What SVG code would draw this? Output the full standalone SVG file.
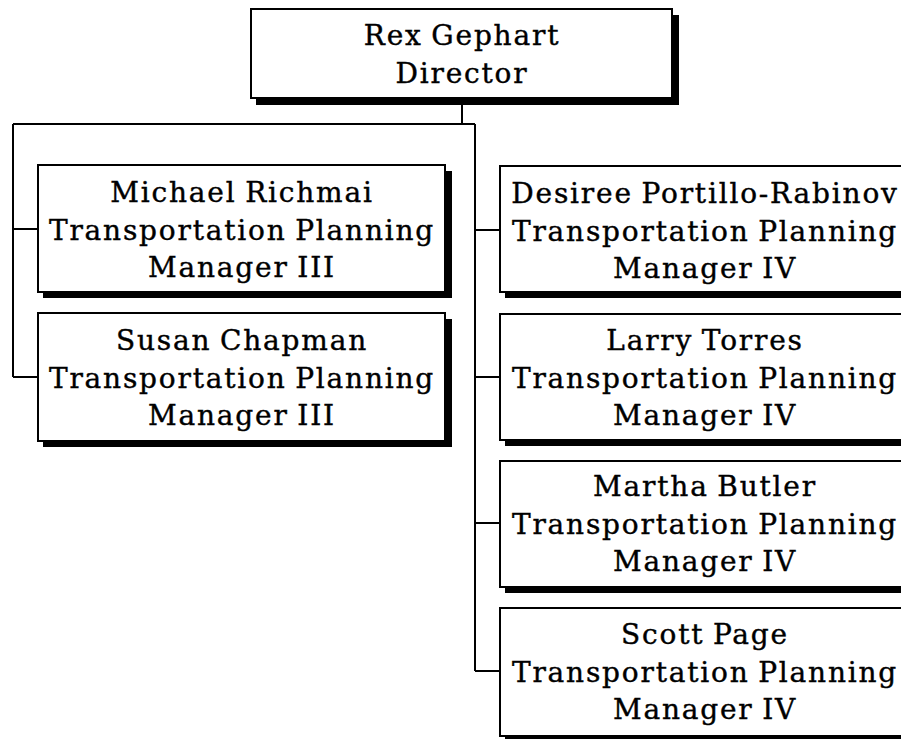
<svg xmlns="http://www.w3.org/2000/svg" width="901" height="739" viewBox="0 0 901 739">
<style>
  .shadow { fill: #000; }
  .box { fill: #fff; stroke: #000; stroke-width: 2; }
  .lbl { font-family: "DejaVu Serif", "Liberation Serif", serif; font-size: 28px; letter-spacing: 1.8px; word-spacing: -2px; fill: #000; stroke: #000; stroke-width: 0.4; text-anchor: middle; }
  .conn { fill: none; stroke: #000; stroke-width: 2; }
</style>
<rect width="901" height="739" fill="#fff"/>
<g id="connectors">
  <path class="conn" d="M462 98 V124 M13 124 H475 M13 124 V377 M13 229 H38 M13 377 H38 M475 124 V671 M475 230 H500 M475 377 H500 M475 523 H500 M475 671 H500"/>
</g>
<g id="node-director">
  <rect class="shadow" x="256" y="15" width="423" height="90"/>
  <rect class="box" x="251" y="9" width="421" height="89"/>
  <text class="lbl" x="462" y="45">Rex Gephart</text>
  <text class="lbl" x="462" y="83">Director</text>
</g>
<g id="node-michael">
  <rect class="shadow" x="43" y="171" width="409" height="127"/>
  <rect class="box" x="38" y="165" width="407" height="127"/>
  <text class="lbl" x="242" y="202">Michael Richmai</text>
  <text class="lbl" x="242" y="240">Transportation Planning</text>
  <text class="lbl" x="242" y="277">Manager III</text>
</g>
<g id="node-susan">
  <rect class="shadow" x="43" y="319" width="409" height="128"/>
  <rect class="box" x="38" y="313" width="407" height="128"/>
  <text class="lbl" x="242" y="350">Susan Chapman</text>
  <text class="lbl" x="242" y="388">Transportation Planning</text>
  <text class="lbl" x="242" y="425">Manager III</text>
</g>
<g id="node-desiree">
  <rect class="shadow" x="505" y="172" width="411" height="126"/>
  <rect class="box" x="500" y="166" width="411" height="126"/>
  <text class="lbl" x="705" y="203">Desiree Portillo-Rabinov</text>
  <text class="lbl" x="705" y="241">Transportation Planning</text>
  <text class="lbl" x="705" y="278">Manager IV</text>
</g>
<g id="node-larry">
  <rect class="shadow" x="505" y="320" width="411" height="126"/>
  <rect class="box" x="500" y="314" width="411" height="126"/>
  <text class="lbl" x="705" y="350">Larry Torres</text>
  <text class="lbl" x="705" y="388">Transportation Planning</text>
  <text class="lbl" x="705" y="425">Manager IV</text>
</g>
<g id="node-martha">
  <rect class="shadow" x="505" y="467" width="411" height="126"/>
  <rect class="box" x="500" y="461" width="411" height="126"/>
  <text class="lbl" x="705" y="496">Martha Butler</text>
  <text class="lbl" x="705" y="534">Transportation Planning</text>
  <text class="lbl" x="705" y="571">Manager IV</text>
</g>
<g id="node-scott">
  <rect class="shadow" x="505" y="614" width="411" height="128"/>
  <rect class="box" x="500" y="608" width="411" height="128"/>
  <text class="lbl" x="705" y="644">Scott Page</text>
  <text class="lbl" x="705" y="682">Transportation Planning</text>
  <text class="lbl" x="705" y="719">Manager IV</text>
</g>
</svg>
